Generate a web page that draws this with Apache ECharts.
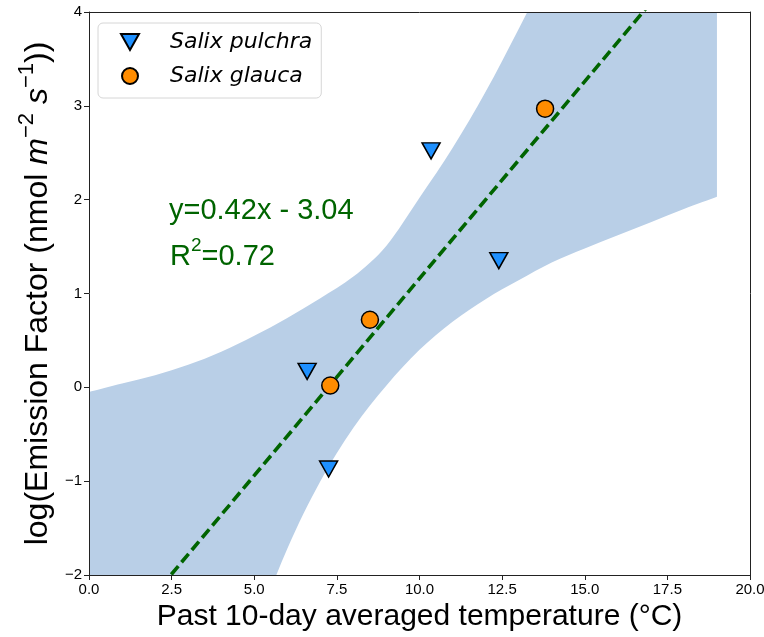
<!DOCTYPE html>
<html>
<head>
<meta charset="utf-8">
<title>Emission factor vs temperature</title>
<script src="https://cdn.jsdelivr.net/npm/echarts@6/dist/echarts.min.js"></script>
<style>
  html, body { margin: 0; padding: 0; background: #ffffff; }
  #chart { width: 764px; height: 637px; }
</style>
</head>
<body>
<div id="chart"></div>
<script>
// Observations per species: temperature (°C) and log emission factor
const pulchraX = [10.35, 12.4, 6.6, 7.25];
const pulchraY = [2.52, 1.35, 0.17, -0.87];
const glaucaX = [13.8, 8.5, 7.3];
const glaucaY = [2.97, 0.72, 0.02];

// Linear fit as printed on the chart
const fitSlope = 0.42;
const fitIntercept = -3.04;
const fitR2 = 0.72;
const fitRangeX = [0, 20];

// Confidence band of the fit (upper and lower edges)
const bandX     = [0, 1, 2, 3, 4, 5, 6, 7, 8, 9, 10, 11, 12, 13, 14, 15, 16, 17, 18, 19];
const bandUpper = [-0.05, 0.04, 0.13, 0.24, 0.38, 0.55, 0.74, 0.95, 1.18, 1.51, 2.02, 2.55, 3.15, 3.82, 4.5, 5.1, 5.7, 6.3, 6.9, 7.5];
const bandLower = [-8.4, -7.2, -6.0, -4.8, -3.65, -2.62, -1.72, -1.0, -0.43, 0.02, 0.40, 0.70, 0.94, 1.14, 1.33, 1.48, 1.62, 1.76, 1.90, 2.03];

// Axis ranges and tick steps
const xMin = 0, xMax = 20, xStep = 2.5;
const yMin = -2, yMax = 4, yStep = 1;

const speciesNames = ['Salix pulchra', 'Salix glauca'];

const zip = (xs, ys) => xs.map((x, i) => [x, ys[i]]);
const fitLine = fitRangeX.map(x => [x, fitSlope * x + fitIntercept]);
const minusSign = v => (v < 0 ? '\u2212' + Math.abs(v) : String(v));

const textFont = "'Liberation Sans', Arial, Helvetica, sans-serif";
const green = '#006400';
const bandColor = '#b9cfe7';
const downTriangle = 'path://M0,0L18,0L9,16Z';

// Smooth curve through pixel points (Catmull-Rom as cubic Bezier segments)
function curveThrough(pts) {
  let d = '';
  for (let i = 0; i < pts.length - 1; i++) {
    const p0 = pts[Math.max(i - 1, 0)], p1 = pts[i], p2 = pts[i + 1], p3 = pts[Math.min(i + 2, pts.length - 1)];
    const c1 = [p1[0] + (p2[0] - p0[0]) / 6, p1[1] + (p2[1] - p0[1]) / 6];
    const c2 = [p2[0] - (p3[0] - p1[0]) / 6, p2[1] - (p3[1] - p1[1]) / 6];
    d += ' C' + c1[0] + ',' + c1[1] + ' ' + c2[0] + ',' + c2[1] + ' ' + p2[0] + ',' + p2[1];
  }
  return d;
}

const chart = echarts.init(document.getElementById('chart'), null, { renderer: 'canvas' });

const eqText = 'y=' + fitSlope.toFixed(2) + 'x - ' + Math.abs(fitIntercept).toFixed(2);

const frameAxis = {
  axisLine: { show: true, onZero: false, lineStyle: { color: '#222', width: 1 } },
  axisTick: { show: false }, axisLabel: { show: false }, splitLine: { show: false }
};

const option = {
  backgroundColor: '#ffffff',
  animation: false,
  grid: { left: 89, right: 14, top: 12, bottom: 62, containLabel: false, outerBoundsMode: 'none' },
  xAxis: [
    {
      type: 'value', min: xMin, max: xMax, interval: xStep, z: 10,
      name: 'Past 10-day averaged temperature (°C)',
      nameLocation: 'middle', nameGap: 21,
      nameTextStyle: { fontFamily: textFont, fontSize: 30, color: '#000', verticalAlign: 'top' },
      axisLine: { show: true, onZero: false, lineStyle: { color: '#222', width: 1 } },
      axisTick: { show: true, inside: false, length: 5, lineStyle: { color: '#222' } },
      axisLabel: { color: '#000', fontFamily: textFont, fontSize: 15, margin: 7,
                   formatter: v => v.toFixed(1) },
      splitLine: { show: false }
    },
    Object.assign({ type: 'value', min: xMin, max: xMax, position: 'top', z: 10 }, frameAxis)
  ],
  yAxis: [
    {
      type: 'value', min: yMin, max: yMax, interval: yStep, z: 10,
      name: '{n|log(Emission Factor (nmol }{i|m}{s|\u22122}{n| }{i|s}{s|\u22121}{n|))}',
      nameLocation: 'middle', nameRotate: 90, nameGap: 34,
      nameTextStyle: {
        color: '#000',
        rich: {
          n: { fontFamily: textFont, fontSize: 32, lineHeight: 38, verticalAlign: 'bottom', color: '#000' },
          i: { fontFamily: textFont, fontSize: 32, fontStyle: 'italic', lineHeight: 38, verticalAlign: 'bottom', color: '#000' },
          s: { fontFamily: textFont, fontSize: 22, lineHeight: 26, verticalAlign: 'top', color: '#000' }
        }
      },
      axisLine: { show: true, onZero: false, lineStyle: { color: '#222', width: 1 } },
      axisTick: { show: true, inside: false, length: 5, lineStyle: { color: '#222' } },
      axisLabel: { color: '#000', fontFamily: textFont, fontSize: 15, margin: 7, formatter: minusSign },
      splitLine: { show: false }
    },
    Object.assign({ type: 'value', min: yMin, max: yMax, position: 'right', z: 10 }, frameAxis)
  ],
  legend: {
    data: speciesNames,
    orient: 'vertical',
    left: 98, top: 23,
    padding: [8, 9, 11, 22],
    itemGap: 12,
    itemWidth: 20, itemHeight: 16,
    backgroundColor: 'rgba(255,255,255,0.8)',
    borderColor: '#d6d6d6', borderWidth: 1, borderRadius: 5,
    formatter: name => '{t|' + name + '}',
    textStyle: {
      rich: {
        t: { fontFamily: "'DejaVu Sans', sans-serif", fontStyle: 'italic', fontSize: 22,
             lineHeight: 24, color: '#000', padding: [0, 0, 0, 25] }
      }
    }
  },
  graphic: [
    {
      type: 'text', left: 169, top: 196, z: 20,
      style: { text: eqText, font: '29px ' + textFont, fill: green }
    },
    {
      type: 'text', left: 170, top: 236, z: 20,
      style: {
        text: '{r|R}{s|2}{r|=' + fitR2.toFixed(2) + '}',
        rich: {
          r: { fontFamily: textFont, fontSize: 29, lineHeight: 35, verticalAlign: 'bottom', fill: green, color: green },
          s: { fontFamily: textFont, fontSize: 19, lineHeight: 19, verticalAlign: 'top', fill: green, color: green }
        }
      }
    }
  ],
  series: [
    {
      // confidence band: upper edge left to right, lower edge back
      name: 'band',
      type: 'custom',
      clip: true,
      silent: true,
      z: 1,
      data: [[bandX[0], bandUpper[0]]],
      renderItem: function (params, api) {
        const up = bandX.map((x, i) => api.coord([x, bandUpper[i]]));
        const lo = bandX.map((x, i) => api.coord([x, bandLower[i]])).reverse();
        const d = 'M' + up[0][0] + ',' + up[0][1] + curveThrough(up) +
                  ' L' + lo[0][0] + ',' + lo[0][1] + curveThrough(lo) + ' Z';
        const cs = params.coordSys;
        return {
          type: 'path',
          shape: { pathData: d },
          style: { fill: bandColor },
          clipPath: { type: 'rect', shape: { x: cs.x, y: cs.y, width: cs.width, height: cs.height } }
        };
      }
    },
    {
      name: 'fit',
      type: 'line',
      data: fitLine,
      clip: true,
      z: 3,
      symbol: 'none',
      lineStyle: { color: green, width: 3.6, type: [11, 5] },
      silent: true
    },
    {
      name: speciesNames[0],
      type: 'scatter',
      data: zip(pulchraX, pulchraY),
      symbol: downTriangle,
      symbolSize: [18, 16],
      z: 5,
      itemStyle: { color: '#1e90ff', borderColor: '#000', borderWidth: 1.5, opacity: 1 }
    },
    {
      name: speciesNames[1],
      type: 'scatter',
      data: zip(glaucaX, glaucaY),
      symbol: 'circle',
      symbolSize: 17,
      z: 5,
      itemStyle: { color: '#ff8c00', borderColor: '#000', borderWidth: 1.5, opacity: 1 }
    }
  ]
};

chart.setOption(option);
</script>
</body>
</html>
